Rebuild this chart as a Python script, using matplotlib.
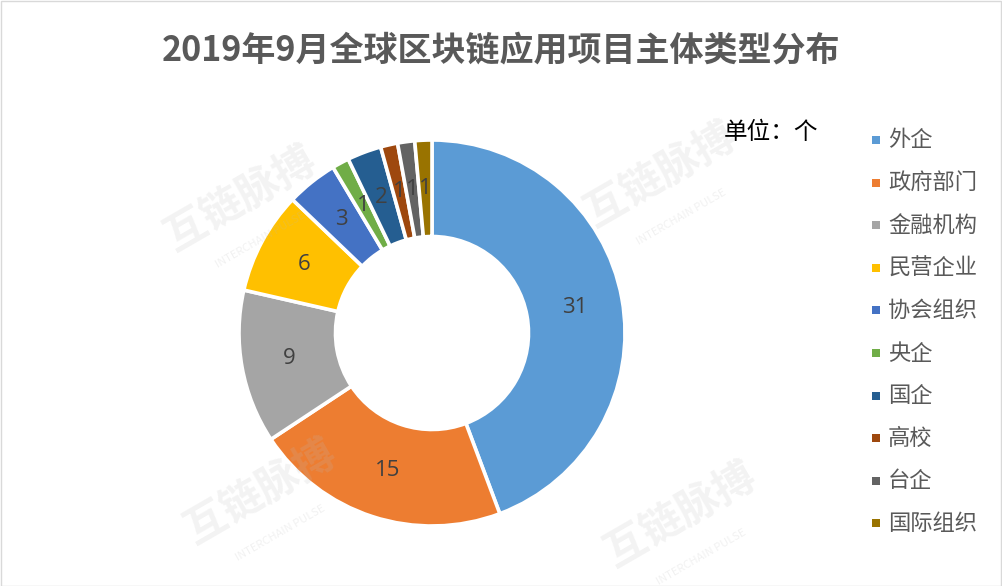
import matplotlib
matplotlib.use("Agg")
import matplotlib.pyplot as plt
from matplotlib.patches import Rectangle
import numpy as np

plt.rcParams['font.family'] = ['Noto Sans CJK SC', 'DejaVu Sans']

categories = ["外企", "政府部门", "金融机构", "民营企业", "协会组织", "央企", "国企", "高校", "台企", "国际组织"]
values = [31, 15, 9, 6, 3, 1, 2, 1, 1, 1]
colors = ["#5B9BD5", "#ED7D31", "#A5A5A5", "#FFC000", "#4472C4",
          "#70AD47", "#255E91", "#9E480E", "#636363", "#997300"]
title = "2019年9月全球区块链应用项目主体类型分布"
unit_text = "单位：个"

W, H = 1002, 586
fig = plt.figure(figsize=(W / 100, H / 100), dpi=100)
fig.patch.set_facecolor("white")

cx, cy, r = 432, 333, 193
ax = fig.add_axes([(cx - r) / W, (H - cy - r) / H, 2 * r / W, 2 * r / H])
wedges, _ = ax.pie(values, colors=colors, startangle=90, counterclock=False,
                   radius=1.0, wedgeprops=dict(width=0.5, edgecolor="white", linewidth=2.6))
ax.set_xlim(-1, 1)
ax.set_ylim(-1, 1)
ax.set_aspect("equal")
ax.axis("off")

total = sum(values)
ang = 90.0
for v in values:
    mid = ang - v / total * 360 / 2
    ang -= v / total * 360
    rr = 0.75
    ax.text(rr * np.cos(np.radians(mid)), rr * np.sin(np.radians(mid)), str(v),
            ha="center", va="center", fontsize=16, color="#404040",
            family=["Open Sans", "DejaVu Sans"])

# watermarks (faint, semi-transparent)
for (x, y) in [(0.24, 0.66), (0.66, 0.70), (0.26, 0.16), (0.68, 0.12)]:
    fig.text(x, y, "互链脉搏", fontsize=30, color="#bbbbbb", alpha=0.18, rotation=30,
             ha="center", va="center", fontweight="bold")
    fig.text(x + 0.02, y - 0.07, "INTERCHAIN PULSE", fontsize=8, color="#bbbbbb", alpha=0.2,
             rotation=30, ha="center", va="center")

fig.text(0.5, 1 - 50 / H, title, ha="center", va="center", fontsize=24.5,
         fontweight="bold", color="#595959")
fig.text(724 / W, 1 - 133 / H, unit_text, ha="left", va="center", fontsize=17, color="black")

# legend
y0, dy = 140, 42.6
for i, (c, lab) in enumerate(zip(colors, categories)):
    y = y0 + i * dy
    fig.patches.append(Rectangle(((876 - 4) / W, 1 - (y + 4) / H), 8 / W, 8 / H,
                                 transform=fig.transFigure, facecolor=c, edgecolor="none"))
    fig.text(888 / W, 1 - y / H, lab, ha="left", va="center", fontsize=16, color="#595959")

# border
fig.patches.append(Rectangle((0.5 / W, 0.5 / H), (W - 1.5) / W, (H - 1.5) / H,
                             transform=fig.transFigure, facecolor="none",
                             edgecolor="#d9d9d9", linewidth=1))

fig.savefig("out.png", dpi=100)
